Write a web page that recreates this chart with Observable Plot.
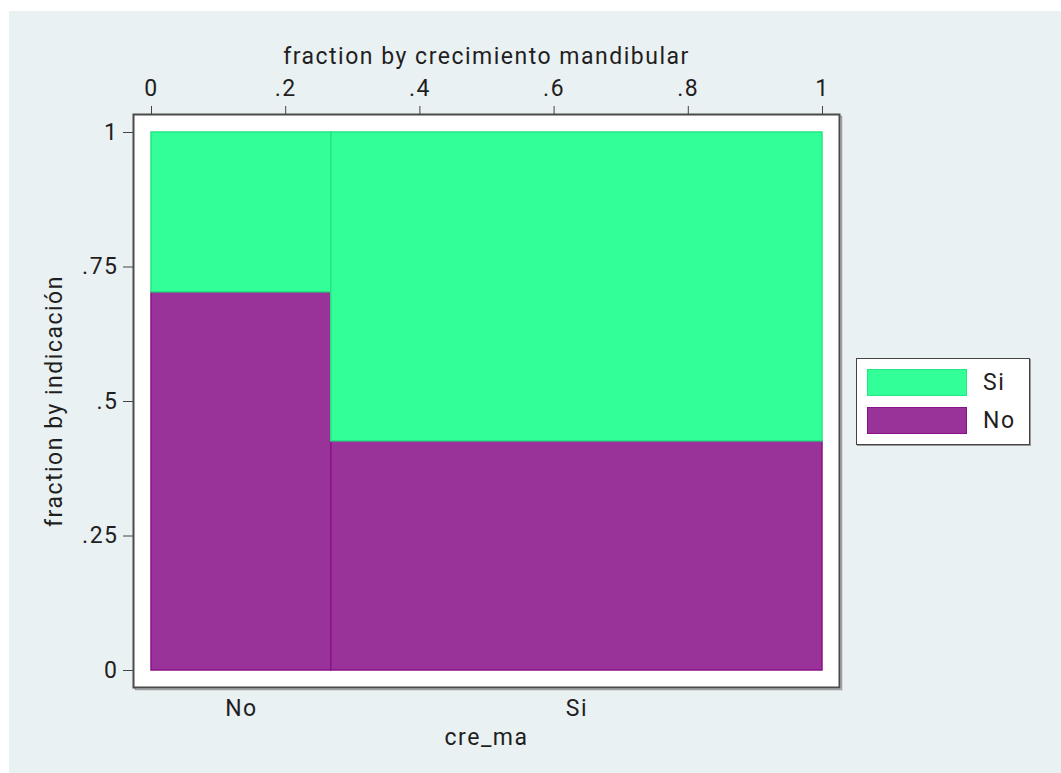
<!DOCTYPE html>
<html>
<head>
<meta charset="utf-8">
<script src="https://cdn.jsdelivr.net/npm/d3@7"></script>
<script src="https://cdn.jsdelivr.net/npm/@observablehq/plot@0.6"></script>
<style>
  html, body { margin: 0; padding: 0; background: #ffffff; }
  #bg { position: absolute; left: 9px; top: 11px; width: 1052px; height: 762px; background: #eaf1f3; }
  #chart { position: absolute; left: 0; top: 0; }
  #legend { position: absolute; left: 856px; top: 358px; width: 172px; height: 85px;
            background: #ffffff; border: 1.5px solid #444; box-shadow: 1px 1px 0 #999;
            font-family: Roboto, sans-serif; font-size: 23px; letter-spacing: 1.5px; color: #1f1f1f; }
  .item { position: absolute; left: 10px; height: 27px; display: flex; align-items: center; }
  .sw { width: 98px; height: 25px; border: 1px solid; margin-right: 16px; }
</style>
</head>
<body>
<div id="bg"></div>
<div id="chart"></div>
<div id="legend"></div>
<script>
// Categories
const creCats = ["No", "Si"];                 // crecimiento mandibular (x)
const creWidths = [0.268, 0.732];             // fraction by crecimiento mandibular
const indCats = ["No", "Si"];                 // indicación (stacked, bottom to top)
const indNoFrac = [0.703, 0.426];             // fraction "No" within each x category
const indSiFrac = [0.297, 0.574];             // fraction "Si" within each x category
const fillColors = {Si: "#33ff99", No: "#993399"};
const strokeColors = {Si: "#25e682", No: "#8a1288"};
const xTicks = [0, 0.2, 0.4, 0.6, 0.8, 1];
const yTicks = [0, 0.25, 0.5, 0.75, 1];
const xTitle = "fraction by crecimiento mandibular";
const yTitle = "fraction by indicación";
const bottomTitle = "cre_ma";
const legendOrder = ["Si", "No"];

// Build mosaic rows
const rows = [];
let x0 = 0;
const centers = [];
creCats.forEach((c, i) => {
  const x1 = x0 + creWidths[i];
  centers.push((x0 + x1) / 2);
  let y0 = 0;
  const fr = {No: indNoFrac[i], Si: indSiFrac[i]};
  indCats.forEach(ind => {
    const y1 = y0 + fr[ind];
    rows.push({cre: c, ind, x1: x0, x2: x1, y1: y0, y2: Math.min(1, y1)});
    y0 = y1;
  });
  x0 = x1;
});

const fmt = d => d === 0 ? "0" : d === 1 ? "1" : String(d).replace(/^0/, "");

const chart = Plot.plot({
  width: 1061,
  height: 773,
  marginLeft: 133,
  marginRight: 222,
  marginTop: 114,
  marginBottom: 86,
  style: {background: "transparent", fontFamily: "Roboto, sans-serif", fontSize: "23px", letterSpacing: "1.5px", color: "#1f1f1f"},
  x: {type: "linear", domain: [0, 1], insetLeft: 18, insetRight: 17},
  y: {type: "linear", domain: [0, 1], insetTop: 18, insetBottom: 17},
  marks: [
    Plot.frame({stroke: "#a0a0a0", strokeWidth: 1.5, dx: 2, dy: 2}),
    Plot.frame({fill: "white", stroke: "#4a4a4a", strokeWidth: 2}),
    ...indCats.map(ind => Plot.rect(rows.filter(r => r.ind === ind), {
      x1: "x1", x2: "x2", y1: "y1", y2: "y2",
      fill: fillColors[ind], stroke: strokeColors[ind], strokeWidth: 1.5
    })),
    Plot.axisX({anchor: "top", ticks: xTicks, tickFormat: fmt, tickSize: 9, tickPadding: 10,
      label: xTitle, labelAnchor: "center", labelOffset: 67, labelArrow: "none", stroke: "#444"}),
    Plot.axisX({anchor: "bottom", ticks: centers, tickFormat: (d, i) => creCats[i], tickSize: 0, tickPadding: 12,
      label: bottomTitle, labelAnchor: "center", labelOffset: 57, labelArrow: "none"}),
    Plot.axisY({anchor: "left", ticks: yTicks, tickFormat: fmt, tickSize: 10, tickPadding: 5,
      label: yTitle, labelAnchor: "center", labelOffset: 88, labelArrow: "none", stroke: "#444"})
  ]
});
document.getElementById("chart").appendChild(chart);

// Legend
const legend = document.getElementById("legend");
legendOrder.forEach((k, i) => {
  const item = document.createElement("div");
  item.className = "item";
  item.style.top = (10 + i * 38) + "px";
  const sw = document.createElement("div");
  sw.className = "sw";
  sw.style.background = fillColors[k];
  sw.style.borderColor = strokeColors[k];
  const t = document.createElement("span");
  t.textContent = k;
  item.appendChild(sw);
  item.appendChild(t);
  legend.appendChild(item);
});
</script>
</body>
</html>
